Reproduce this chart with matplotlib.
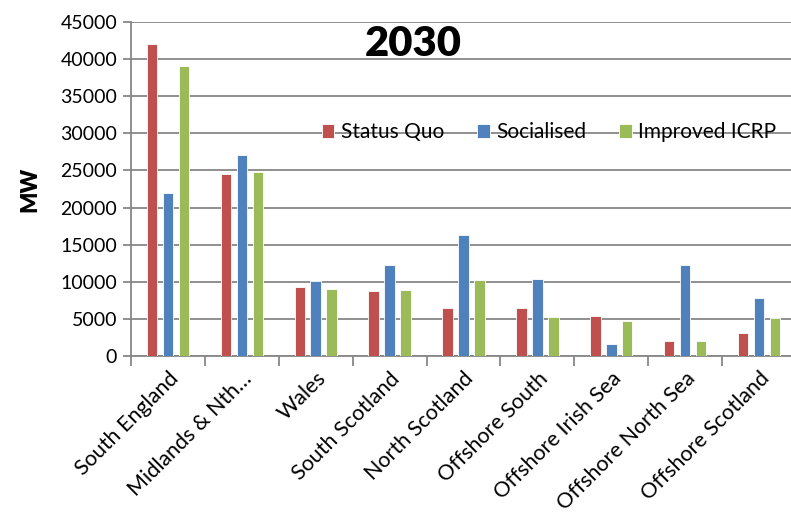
import matplotlib.pyplot as plt
import numpy as np

# Generation capacity by region in 2030 (MW)
regions = ['South England', 'Midlands & Nth…', 'Wales', 'South Scotland',
           'North Scotland', 'Offshore South', 'Offshore Irish Sea',
           'Offshore North Sea', 'Offshore Scotland']
status_quo = [42000, 24500, 9300, 8700, 6500, 6500, 5350, 2050, 3150]
socialised = [22000, 27100, 10100, 12200, 16350, 10400, 1650, 12300, 7800]
improved_icrp = [39100, 24800, 9000, 8950, 10300, 5250, 4750, 2050, 5100]

series = [('Status Quo', status_quo, '#C0504D'),
          ('Socialised', socialised, '#4F81BD'),
          ('Improved ICRP', improved_icrp, '#9BBB59')]

plt.rcParams['font.family'] = ['Lato', 'DejaVu Sans']

fig = plt.figure(figsize=(7.91, 5.16), dpi=100)
ax = fig.add_axes([0.1656, 0.31, 0.8407, 0.6473])

x = np.arange(len(regions))
width = 0.142
step = 0.216
for i, (name, vals, col) in enumerate(series):
    ax.bar(x + (i - 1) * step, vals, width, color=col, label=name,
           edgecolor='white', linewidth=0.6, zorder=3)

ax.set_xlim(-0.5, len(regions) - 0.5)
ax.set_ylim(0, 45000)
ax.set_yticks(np.arange(0, 45001, 5000))
ax.grid(axis='y', color='#878787', linewidth=1.3, zorder=0)

for side in ['top', 'right']:
    ax.spines[side].set_visible(False)
for side in ['left', 'bottom']:
    ax.spines[side].set_color('#878787')
    ax.spines[side].set_linewidth(1.3)

# category boundaries get the tick marks, labels sit at the centres
ax.set_xticks(x)
ax.set_xticks(np.arange(-0.5, len(regions)), minor=True)
ax.tick_params(axis='x', which='major', length=0, pad=9)
ax.tick_params(axis='x', which='minor', length=7, width=1.3, color='#878787')
ax.tick_params(axis='y', length=6, width=1.3, color='#878787', labelsize=14, pad=4)
ax.set_xticklabels(regions, rotation=45, ha='right', va='top',
                   rotation_mode='anchor', fontsize=15.5)

ax.set_ylabel('MW', fontsize=16, fontweight='heavy', labelpad=14)
ax.text(0.424, 0.935, '2030', transform=ax.transAxes, ha='center', va='center',
        fontsize=30, fontweight='heavy')

leg = ax.legend(loc='center left', bbox_to_anchor=(0.287, 0.67), ncol=3,
                frameon=False, fontsize=15, handlelength=0.6, handleheight=0.6,
                handletextpad=0.3, columnspacing=1.6, borderaxespad=0,
                borderpad=0)

fig.savefig('out.png', dpi=100)
